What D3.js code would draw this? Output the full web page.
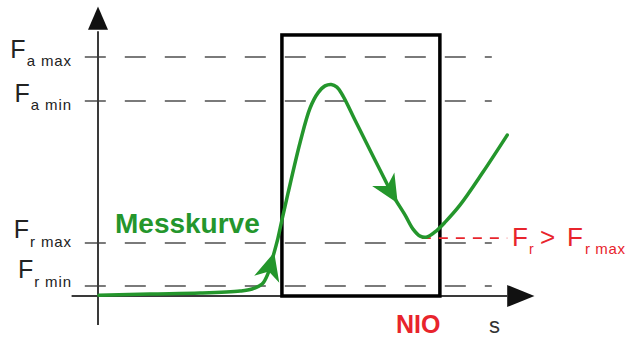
<!DOCTYPE html>
<html><head><meta charset="utf-8">
<script src="https://cdn.jsdelivr.net/npm/d3@7"></script>
<style>html,body{margin:0;padding:0;background:#fff;}svg{display:block;}</style>
</head><body>
<svg id="c" width="633" height="340"></svg>
<script>
// ---- data (arbitrary units: s along x, F along y) ----
const levelNames = ["a max", "a min", "r max", "r min"];
const levelValues = [82.1, 67.0, 18.2, 3.4];
const curveS = [0.2, 11.8, 23.2, 32.3, 35.0, 37.3, 38.6, 39.8, 40.9, 41.8, 43.2, 45.9, 48.2, 50.0, 51.6, 53.0, 54.3, 55.7, 58.4, 60.9, 64.1, 67.0, 69.8, 71.6, 73.2, 74.8, 76.6, 78.9, 82.3, 87.5, 93.0];
const curveF = [0.3, 0.7, 1.0, 1.7, 2.4, 4.1, 7.6, 13.7, 19.9, 26.1, 35.4, 52.6, 64.6, 69.8, 72.2, 72.7, 71.8, 68.7, 60.5, 52.9, 43.3, 34.7, 27.8, 23.0, 20.6, 20.3, 22.0, 25.4, 31.3, 42.6, 55.3];
const arrowS = [39.8, 68.2];
const arrowF = [15.1, 32.0];
const windowS = [41.8, 77.7];   // NIO window (s range)
const windowTop = 89.7;
const exceedS = [73.6, 93.0];   // red marker from minimum
const exceedF = 19.9;

// ---- scales ----
const x = d3.scaleLinear().domain([0, 100]).range([98, 538]);
const y = d3.scaleLinear().domain([0, 100]).range([296, 5]);

const svg = d3.select("#c");
const font = "'Liberation Sans', Arial, sans-serif";
const green = "#24962c", red = "#e8242c", axisCol = "#3a3a3a";

// dashed reference lines
svg.selectAll("line.lvl").data(levelValues).enter().append("line")
  .attr("x1", x(-3)).attr("x2", x(89.5))
  .attr("y1", d => y(d)).attr("y2", d => y(d))
  .attr("stroke", "#7a7a7a").attr("stroke-width", 2)
  .attr("stroke-dasharray", "21,19");

// axes
svg.append("line").attr("x1", x(0)).attr("x2", x(0)).attr("y1", y(91)).attr("y2", y(-10))
  .attr("stroke", axisCol).attr("stroke-width", 2);
svg.append("path").attr("d", `M${x(0)-10},${y(91.5)}L${x(0)+10},${y(91.5)}L${x(0)},${y(99.5)}Z`).attr("fill", "#111");
svg.append("line").attr("x1", x(-6)).attr("x2", x(93)).attr("y1", y(0)).attr("y2", y(0))
  .attr("stroke", axisCol).attr("stroke-width", 2);
svg.append("path").attr("d", `M${x(93)},${y(0)-11}L${x(93)},${y(0)+11}L${x(99.2)},${y(0)}Z`).attr("fill", "#111");

// window box
svg.append("rect").attr("x", x(windowS[0])).attr("y", y(windowTop))
  .attr("width", x(windowS[1]) - x(windowS[0])).attr("height", y(0) - y(windowTop))
  .attr("fill", "none").attr("stroke", "#000").attr("stroke-width", 3.5);

// red exceed marker
svg.append("line").attr("x1", x(exceedS[0])).attr("x2", x(exceedS[1]))
  .attr("y1", y(exceedF)).attr("y2", y(exceedF))
  .attr("stroke", red).attr("stroke-width", 1.6).attr("stroke-dasharray", "9,8");

// curve
const pts = curveS.map((s, i) => [s, curveF[i]]);
const line = d3.line().x(d => x(d[0])).y(d => y(d[1])).curve(d3.curveCatmullRom.alpha(0.5));
const path = svg.append("path").attr("d", line(pts)).attr("fill", "none")
  .attr("stroke", green).attr("stroke-width", 3.5).attr("stroke-linecap", "round");

// arrowheads along the curve
const pn = path.node(), total = pn.getTotalLength();
arrowS.forEach((s, i) => {
  const tx = x(s), ty = y(arrowF[i]);
  let best = 0, bd = 1e9;
  for (let l = 0; l <= total; l += 0.5) {
    const p = pn.getPointAtLength(l); const dd = (p.x - tx) ** 2 + (p.y - ty) ** 2;
    if (dd < bd) { bd = dd; best = l; }
  }
  const p1 = pn.getPointAtLength(best), p0 = pn.getPointAtLength(Math.max(0, best - 8));
  const ang = Math.atan2(p1.y - p0.y, p1.x - p0.x) * 180 / Math.PI;
  svg.append("path").attr("d", "M0,0L-28,-13L-20,0L-28,13Z")
    .attr("transform", `translate(${p1.x},${p1.y}) rotate(${ang})`).attr("fill", green);
});

// level labels
const labOff = [[1, 8], [1, 8], [-5, 9], [-8, 9]];
levelValues.forEach((v, i) => {
  const t = svg.append("text").attr("x", 72).attr("y", y(v) + labOff[i][0])
    .attr("text-anchor", "end").attr("font-family", font).attr("fill", "#222");
  t.append("tspan").attr("font-size", 25).text("F");
  t.append("tspan").attr("font-size", 15).attr("dx", 1).attr("dy", labOff[i][1])
    .attr("letter-spacing", 0.9).text(levelNames[i]);
});

// Messkurve label
svg.append("text").attr("x", 115).attr("y", 233).attr("font-family", font)
  .attr("font-weight", "bold").attr("font-size", 28).attr("fill", green).text("Messkurve");

// Fr > Fr max
const rg = svg.append("g").attr("font-family", font).attr("fill", red);
rg.append("text").attr("x", 512).attr("y", 246).attr("font-size", 26).text("F");
rg.append("text").attr("x", 529).attr("y", 254).attr("font-size", 14).text("r");
rg.append("text").attr("x", 540).attr("y", 246).attr("font-size", 26).text(">");
rg.append("text").attr("x", 567).attr("y", 246).attr("font-size", 26).text("F");
rg.append("text").attr("x", 585).attr("y", 254).attr("font-size", 15).attr("letter-spacing", 0.6).text("r max");

// NIO, s
svg.append("text").attr("x", 396).attr("y", 333).attr("font-family", font).attr("font-weight", "bold")
  .attr("font-size", 25).attr("fill", red).text("NIO");
svg.append("text").attr("x", 489).attr("y", 333).attr("font-family", font)
  .attr("font-size", 22).attr("fill", "#333").text("s");
</script>
</body></html>
